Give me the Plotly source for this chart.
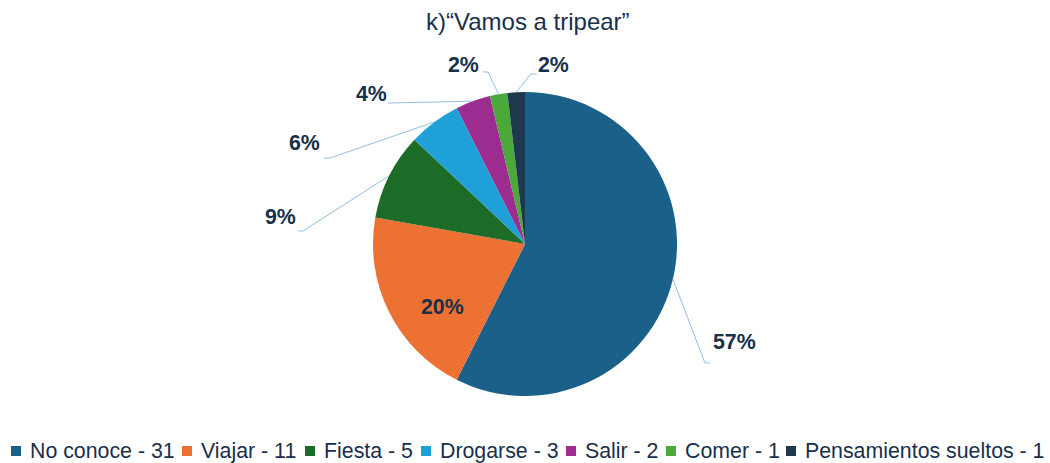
import math
import plotly.graph_objects as go

# ---- data ----
categories = ["No conoce", "Viajar", "Fiesta", "Drogarse", "Salir", "Comer", "Pensamientos sueltos"]
counts = [31, 11, 5, 3, 2, 1, 1]
colors = ["#1a6088", "#ec7132", "#1c6c28", "#1fa0d8", "#9c2c90", "#4ba83a", "#1e394d"]
title_text = "k)“Vamos a tripear”"

# ---- layout constants (pixels) ----
W, H = 1050, 463
CX, CY, R = 525, 244, 152
TEXT_COLOR = "#18304a"
LINE_COLOR = "#93bfe6"
FONT = "Liberation Sans, Arial, sans-serif"

label_pos = [(734, 342), (442, 307), (280, 217), (304, 143), (371, 94), (463, 65), (553, 65)]
leader_elbow = [(705, 363), None, (303, 231), (330, 158), (390, 103), (488, 72), (531, 74)]
leader_end = [(710, 363), None, (298, 231), (324, 158), (388, 103), (483, 72), (537, 74)]
legend_text_x = [28, 199, 322, 438, 583, 683, 803]
LEGEND_Y = 451


def px(x):
    return x / W


def py(y):
    return 1 - y / H


total = sum(counts)

fig = go.Figure(
    go.Pie(
        labels=categories,
        values=counts,
        marker=dict(colors=colors, line=dict(width=0)),
        sort=False,
        direction="clockwise",
        rotation=0,
        textinfo="none",
        showlegend=False,
        domain=dict(x=[px(CX - R), px(CX + R)], y=[py(CY + R), py(CY - R)]),
    )
)

annotations = []
shapes = []

# percentage labels with leader lines
cum = 0
for i, v in enumerate(counts):
    mid = (cum + v / 2) / total * 2 * math.pi
    cum += v
    pct = f"{round(v / total * 100)}%"
    lx, ly = label_pos[i]
    annotations.append(dict(
        x=px(lx), y=py(ly), xref="paper", yref="paper", text=f"<b>{pct}</b>",
        showarrow=False, xanchor="center", yanchor="middle",
        font=dict(family=FONT, size=21.33, color=TEXT_COLOR),
    ))
    if leader_elbow[i] is not None:
        ax = CX + R * math.sin(mid)
        ay = CY - R * math.cos(mid)
        ex, ey = leader_elbow[i]
        tx, ty = leader_end[i]
        shapes.append(dict(
            type="path", xref="paper", yref="paper",
            path=f"M {px(ax)},{py(ay)} L {px(ex)},{py(ey)} L {px(tx)},{py(ty)}",
            line=dict(color=LINE_COLOR, width=1),
        ))

# title
annotations.append(dict(
    x=px(528), y=py(21), xref="paper", yref="paper", text=title_text,
    showarrow=False, xanchor="center", yanchor="middle",
    font=dict(family=FONT, size=24, color=TEXT_COLOR),
))

# legend
for i, (cat, v) in enumerate(zip(categories, counts)):
    tx = legend_text_x[i]
    shapes.append(dict(
        type="rect", xref="paper", yref="paper",
        x0=px(tx - 17), x1=px(tx - 7), y0=py(LEGEND_Y + 5), y1=py(LEGEND_Y - 5),
        fillcolor=colors[i], line=dict(width=0),
    ))
    annotations.append(dict(
        x=px(tx), y=py(LEGEND_Y), xref="paper", yref="paper", text=f"{cat} - {v}",
        showarrow=False, xanchor="left", yanchor="middle",
        font=dict(family=FONT, size=21.33, color=TEXT_COLOR),
    ))

fig.update_layout(
    width=W, height=H,
    margin=dict(l=0, r=0, t=0, b=0),
    paper_bgcolor="white", plot_bgcolor="white",
    annotations=annotations, shapes=shapes,
    showlegend=False,
)

fig.write_html(
    "out.html",
    config={"displayModeBar": False},
    post_script="document.body.style.margin='0';document.body.style.overflow='hidden';",
)
